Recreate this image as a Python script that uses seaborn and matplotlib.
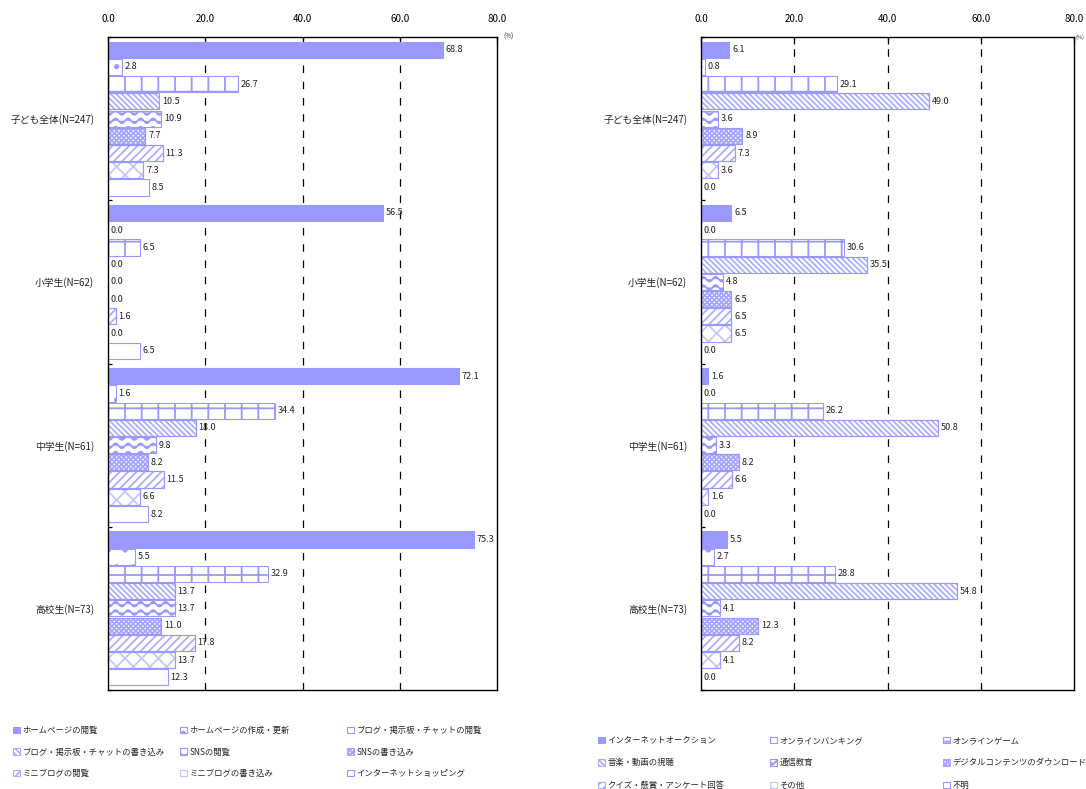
import numpy as np
import pandas as pd
import matplotlib
matplotlib.use("Agg")
import matplotlib.pyplot as plt
import matplotlib.hatch as mhatch
from matplotlib.path import Path
from matplotlib.patches import Patch, Rectangle
from matplotlib.ticker import FormatStrFormatter
import seaborn as sns

# ---------------------------------------------------------------- data
groups = ["子ども全体(N=247)", "小学生(N=62)", "中学生(N=61)", "高校生(N=73)"]

web_items = [
    "ホームページの閲覧", "ホームページの作成・更新", "ブログ・掲示板・チャットの閲覧",
    "ブログ・掲示板・チャットの書き込み", "SNSの閲覧", "SNSの書き込み",
    "ミニブログの閲覧", "ミニブログの書き込み", "インターネットショッピング",
]
web_total = [68.8, 2.8, 26.7, 10.5, 10.9, 7.7, 11.3, 7.3, 8.5]
web_elementary = [56.5, 0.0, 6.5, 0.0, 0.0, 0.0, 1.6, 0.0, 6.5]
web_junior = [72.1, 1.6, 34.4, 18.0, 9.8, 8.2, 11.5, 6.6, 8.2]
web_senior = [75.3, 5.5, 32.9, 13.7, 13.7, 11.0, 17.8, 13.7, 12.3]

service_items = [
    "インターネットオークション", "オンラインバンキング", "オンラインゲーム",
    "音楽・動画の視聴", "通信教育", "デジタルコンテンツのダウンロード",
    "クイズ・懸賞・アンケート回答", "その他", "不明",
]
service_total = [6.1, 0.8, 29.1, 49.0, 3.6, 8.9, 7.3, 3.6, 0.0]
service_elementary = [6.5, 0.0, 30.6, 35.5, 4.8, 6.5, 6.5, 6.5, 0.0]
service_junior = [1.6, 0.0, 26.2, 50.8, 3.3, 8.2, 6.6, 1.6, 0.0]
service_senior = [5.5, 2.7, 28.8, 54.8, 4.1, 12.3, 8.2, 4.1, 0.0]

x_ticks = [0, 20, 40, 60, 80]

# ---------------------------------------------------------------- styling
BLUE = "#9999FF"
# (face colour, hatch, hatch colour) for the nine series of each panel
styles = [
    (BLUE, None, BLUE),
    ("white", ".", BLUE),
    ("white", "+", BLUE),
    ("white", "\\" * 6, "#aeaeff"),
    ("white", "~", BLUE),
    ("white", "x" * 7, "#a6a6ff"),
    ("white", "////", "#aeaeff"),
    ("white", "xx", "#c6c6ff"),
    ("white", None, BLUE),
]


class WaveHatch(mhatch.HatchPatternBase):
    """Horizontal wavy lines, selected with '~' in a hatch string."""
    cycles = 8
    steps = 96

    def __init__(self, hatch, density):
        self.num_lines = hatch.count("~") * 12
        self.num_vertices = self.num_lines * (self.steps + 1)

    def set_vertices_and_codes(self, vertices, codes):
        n = self.steps + 1
        t = np.linspace(0.0, 1.0, n)
        wave = 0.024 * np.sin(2 * np.pi * self.cycles * t)
        for i in range(self.num_lines):
            y0 = (i + 0.5) / self.num_lines
            vertices[i * n:(i + 1) * n, 0] = t
            vertices[i * n:(i + 1) * n, 1] = y0 + wave
            codes[i * n] = Path.MOVETO
            codes[i * n + 1:(i + 1) * n] = Path.LINETO


mhatch._hatch_types.append(WaveHatch)
mhatch._validate_hatch_pattern = lambda hatch: None

sns.set_theme(style="white")
plt.rcParams["font.family"] = ["Noto Sans CJK JP", "DejaVu Sans"]
plt.rcParams["hatch.linewidth"] = 1.3
plt.rcParams["axes.unicode_minus"] = False


def style_patch(p, face, hatch, hcolor):
    """Fill and hatch a patch; the hatch takes the patch's edge colour."""
    p.set_facecolor(face)
    p.set_edgecolor(hcolor if hatch else BLUE)
    p.set_linewidth(0.8)
    p.set_hatch(hatch)


def outline(ax, bar):
    """Redraw a bar's border in the main blue on top of a lighter hatch."""
    ax.add_patch(Rectangle(bar.get_xy(), bar.get_width(), bar.get_height(),
                           facecolor="none", edgecolor=BLUE, linewidth=0.8,
                           zorder=bar.get_zorder() + 0.1))


def draw_panel(ax, items, rows):
    df = pd.DataFrame(
        [(g, it, v) for g, vals in zip(groups, rows) for it, v in zip(items, vals)],
        columns=["group", "item", "value"],
    )
    sns.barplot(
        data=df, x="value", y="group", hue="item", order=groups, hue_order=items,
        orient="h", width=0.95, gap=0.06, dodge=True, errorbar=None,
        palette=[BLUE] * len(items), saturation=1, legend=False, ax=ax,
    )
    for cont, (face, hatch, hcolor) in zip(list(ax.containers), styles):
        for bar in cont:
            style_patch(bar, face, hatch, hcolor)
            if hatch and hcolor != BLUE and bar.get_width() > 0:
                outline(ax, bar)
        ax.bar_label(cont, fmt="%.1f", padding=2, fontsize=6.5, color="#222222")

    ax.set_xlim(0, 80)
    ax.set_ylim(3.5, -0.5)
    ax.set_xlabel("")
    ax.set_ylabel("")
    ax.set_xticks(x_ticks)
    ax.xaxis.set_major_formatter(FormatStrFormatter("%.1f"))
    ax.xaxis.tick_top()
    ax.tick_params(axis="x", which="major", direction="in", length=5, width=0.9,
                   pad=9, labelsize=7, colors="black", top=True, bottom=False)
    ax.tick_params(axis="y", which="major", length=0, pad=10, labelsize=7)
    ax.set_yticks(np.arange(-0.5, 4.0, 1.0), minor=True)
    ax.tick_params(axis="y", which="minor", direction="in", length=3, width=0.9,
                   left=True, color="black")
    for x in x_ticks[1:-1]:
        ax.axvline(x, color="black", lw=0.9, ls=(0, (6, 7)), zorder=0)
    for side in ("top", "bottom", "left", "right"):
        ax.spines[side].set_visible(True)
        ax.spines[side].set_color("black")
        ax.spines[side].set_linewidth(1.0)
    ax.grid(False)


def add_legend(fig, items, col_x, top, spacing):
    for c in range(3):
        idx = [c, c + 3, c + 6]
        handles = []
        for i in idx:
            h = Patch()
            style_patch(h, *styles[i])
            handles.append(h)
        fig.legend(
            handles, [items[i] for i in idx], loc="upper left",
            bbox_to_anchor=(col_x[c] / W, 1 - top / H), frameon=False,
            fontsize=6.0, handlelength=0.8, handleheight=0.8,
            handletextpad=0.35, labelspacing=spacing, borderpad=0,
            borderaxespad=0,
        )


W, H = 1086, 789
fig = plt.figure(figsize=(W / 100, H / 100), dpi=100)
fig.patch.set_facecolor("white")

ax_left = fig.add_axes([108 / W, 1 - 690 / H, (497 - 108) / W, (690 - 37) / H])
ax_right = fig.add_axes([701 / W, 1 - 690 / H, (1074 - 701) / W, (690 - 37) / H])

draw_panel(ax_left, web_items, [web_total, web_elementary, web_junior, web_senior])
draw_panel(ax_right, service_items,
           [service_total, service_elementary, service_junior, service_senior])

fig.text(503 / W, 1 - 37 / H, "(%)", fontsize=4.5, ha="left", va="center")
fig.text(1076 / W, 1 - 37 / H, "(%)", fontsize=4.0, ha="left", va="center")

add_legend(fig, web_items, [13, 180, 347], 726, 1.5)
add_legend(fig, service_items, [598, 770, 943], 736, 1.6)

fig.savefig("out.png", dpi=100, facecolor="white")
